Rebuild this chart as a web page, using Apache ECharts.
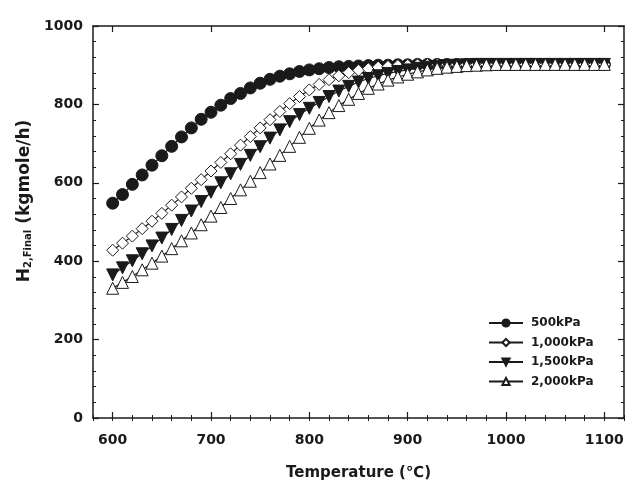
<!DOCTYPE html>
<html>
<head>
<meta charset="utf-8">
<script src="https://cdn.jsdelivr.net/npm/echarts@6/dist/echarts.min.js"></script>
<style>html,body{margin:0;padding:0;background:#fff;}#c{width:633px;height:484px;}</style>
</head>
<body>
<div id="c"></div>
<script>
var temperatures = [600,610,620,630,640,650,660,670,680,690,700,710,720,730,740,750,760,770,780,790,800,810,820,830,840,850,860,870,880,890,900,910,920,930,940,950,960,970,980,990,1000,1010,1020,1030,1040,1050,1060,1070,1080,1090,1100];
var p500 = [548,570,596,620,645,669,693,717,740,762,780,798,815,828,842,854,864,872,878,884,888,891,894,896,897,898,899,900,900,901,901,902,902,902,902,902,902,902,902,902,902,902,902,902,902,902,902,902,902,902,902];
var p1000 = [428,446,464,483,502,522,543,564,586,608,630,652,674,696,718,740,761,782,802,820,837,851,863,873,881,887,891,895,897,899,900,901,902,902,902,902,902,902,902,902,902,902,902,902,902,902,902,902,902,902,902];
var p1500 = [365,383,401,419,439,459,481,504,528,552,576,600,623,647,670,692,714,735,756,774,790,805,820,834,846,857,866,873,879,884,888,892,895,897,899,900,901,902,902,902,902,902,902,902,902,902,902,902,902,902,902];
var p2000 = [331,346,361,378,395,413,432,452,472,493,515,537,560,582,604,626,648,670,693,716,739,760,779,797,813,828,841,852,862,870,877,883,888,892,895,897,899,900,901,902,902,902,902,902,902,902,902,902,902,902,902];
var seriesNames = ['500kPa','1,000kPa','1,500kPa','2,000kPa'];
var xTicks = [600,700,800,900,1000,1100];

function pairs(vals){ return temperatures.map(function(t,i){ return [t, vals[i]]; }); }

var FONT = '"DejaVu Sans", Arial, sans-serif';
var INK = '#1a1a1a';
var chart = echarts.init(document.getElementById('c'), null, {renderer:'canvas'});

function mk(name, vals, symbol, filled, rotate){
  return {
    name: name, type: 'line', data: pairs(vals), xAxisIndex: 0, yAxisIndex: 0,
    symbol: symbol, symbolSize: 12, symbolRotate: rotate || 0,
    showAllSymbol: true, animation: false,
    lineStyle: {color: INK, width: 1.2},
    itemStyle: {color: filled ? INK : '#ffffff', borderColor: INK, borderWidth: 1},
    emphasis: {disabled: true}
  };
}
function plain(v){ return String(v); }

var baseX = {type:'value', min:580, max:1120, gridIndex:0};
var option = {
  animation: false,
  grid: {left: 93, right: 9, top: 26, bottom: 66, containLabel: false, outerBoundsMode: 'none'},
  legend: {
    orient: 'vertical', left: 488, top: 317, padding: 0,
    itemWidth: 34, itemHeight: 9, itemGap: 7.5,
    textStyle: {fontFamily: FONT, fontWeight: 'bold', fontSize: 12, color: INK, padding:[0,0,0,3]},
    data: seriesNames
  },
  xAxis: [
    Object.assign({}, baseX, {
      position: 'bottom',
      name: 'Temperature (℃)', nameLocation: 'middle', nameGap: 48,
      nameTextStyle: {fontFamily: FONT, fontWeight: 'bold', fontSize: 15, color: INK},
      axisLine: {show: true, onZero: false, lineStyle: {color: INK, width: 1.5}},
      axisTick: {show: true, inside: true, length: 6, customValues: xTicks, lineStyle:{color: INK, width: 1.2}},
      axisLabel: {show: true, customValues: xTicks, formatter: plain, margin: 15, fontFamily: FONT, fontWeight: 'bold', fontSize: 14, color: INK},
      splitLine: {show: false}
    }),
    Object.assign({}, baseX, {
      position: 'bottom', interval: 20,
      axisLine: {show: false},
      axisTick: {show: true, inside: true, length: 3, lineStyle:{color: INK, width: 1}},
      axisLabel: {show: false}, splitLine: {show: false}
    }),
    Object.assign({}, baseX, {
      position: 'top',
      axisLine: {show: true, onZero: false, lineStyle: {color: INK, width: 1.5}},
      axisTick: {show: true, inside: true, length: 6, customValues: xTicks, lineStyle:{color: INK, width: 1.2}},
      axisLabel: {show: false}, splitLine: {show: false}
    }),
    Object.assign({}, baseX, {
      position: 'top', interval: 20,
      axisLine: {show: false},
      axisTick: {show: true, inside: true, length: 3, lineStyle:{color: INK, width: 1}},
      axisLabel: {show: false}, splitLine: {show: false}
    })
  ],
  yAxis: [
    {
      type: 'value', min: 0, max: 1000, interval: 200, position: 'left',
      name: '{a|H}{b|2,Final}{a| (kgmole/h)}', nameLocation: 'middle', nameGap: 60, nameRotate: 90,
      nameTextStyle: {fontFamily: FONT, fontWeight: 'bold', color: INK, padding: [0, 0, 0, 42],
        rich: {
          a: {fontFamily: FONT, fontWeight: 'bold', fontSize: 17, color: INK, verticalAlign: 'bottom', lineHeight: 20},
          b: {fontFamily: FONT, fontWeight: 'bold', fontSize: 10, color: INK, verticalAlign: 'bottom', lineHeight: 16}
        }
      },
      axisLine: {show: true, onZero: false, lineStyle: {color: INK, width: 1.5}},
      axisTick: {show: true, inside: true, length: 6, lineStyle:{color: INK, width: 1.2}},
      minorTick: {show: true, splitNumber: 5, length: 3, lineStyle:{color: INK, width: 1}},
      axisLabel: {margin: 10, formatter: plain, fontFamily: FONT, fontWeight: 'bold', fontSize: 14, color: INK},
      splitLine: {show: false}
    },
    {
      type: 'value', min: 0, max: 1000, interval: 200, position: 'right',
      axisLine: {show: true, onZero: false, lineStyle: {color: INK, width: 1.5}},
      axisTick: {show: true, inside: true, length: 6, lineStyle:{color: INK, width: 1.2}},
      minorTick: {show: true, splitNumber: 5, length: 3, lineStyle:{color: INK, width: 1}},
      axisLabel: {show: false}, splitLine: {show: false}
    }
  ],
  series: [
    mk(seriesNames[0], p500, 'circle', true),
    mk(seriesNames[1], p1000, 'diamond', false),
    mk(seriesNames[2], p1500, 'triangle', true, 180),
    mk(seriesNames[3], p2000, 'triangle', false)
  ]
};
chart.setOption(option);
</script>
</body>
</html>
